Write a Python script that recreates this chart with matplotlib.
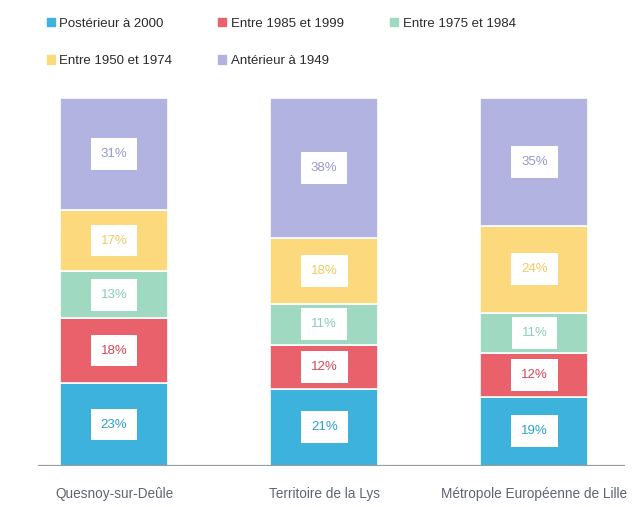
import numpy as np
import matplotlib.pyplot as plt
from matplotlib.patches import Patch

# data
territoires = ["Quesnoy-sur-Deûle", "Territoire de la Lys", "Métropole Européenne de Lille"]
periodes = ["Postérieur à 2000", "Entre 1985 et 1999", "Entre 1975 et 1984",
            "Entre 1950 et 1974", "Antérieur à 1949"]
posterieur_2000 = [23, 21, 19]
entre_1985_1999 = [18, 12, 12]
entre_1975_1984 = [13, 11, 11]
entre_1950_1974 = [17, 18, 24]
anterieur_1949 = [31, 38, 35]

fill_colors = ["#3db2dc", "#e9616b", "#a0d9c2", "#fbd97c", "#b2b3e1"]
text_colors = ["#2b9fcf", "#d94656", "#8dcdb4", "#f2c95e", "#9899cf"]

plt.rcParams["font.family"] = ["Liberation Sans", "DejaVu Sans"]

series = np.array([posterieur_2000, entre_1985_1999, entre_1975_1984,
                   entre_1950_1974, anterieur_1949], dtype=float)
# the published figures are rounded, every bar is drawn at full height
shares = series / series.sum(axis=0) * 100

fig = plt.figure(figsize=(6.35, 5.07), dpi=100)
ax = fig.add_axes([38 / 635, 1 - 466 / 507, 587 / 635, 368 / 507])

x = np.arange(len(territoires))
bottom = np.zeros(len(territoires))
for i, periode in enumerate(periodes):
    ax.bar(x, shares[i], 0.514, bottom=bottom, color=fill_colors[i],
           edgecolor="white", linewidth=1.2)
    for xi, b, h, v in zip(x, bottom, shares[i], series[i]):
        ax.text(xi, b + h / 2, f"{int(v)}%", ha="center", va="center",
                fontsize=9.5, color=text_colors[i],
                bbox=dict(boxstyle="square,pad=0.75", fc="white", ec="none"))
    bottom += shares[i]

ax.axhline(0, color="#9a9ca3", lw=1.6)
ax.set_xlim(-0.362, 2.431)
ax.set_ylim(0, 100)
ax.set_xticks(x)
ax.set_xticklabels(territoires, fontsize=9.8, color="#5d6673")
ax.tick_params(axis="x", length=0, pad=15)
ax.set_yticks([])
for s in ax.spines.values():
    s.set_visible(False)

# legend is filled column by column, reorder so it reads row by row
order = [0, 3, 1, 4, 2]
handles = [Patch(color=fill_colors[i]) for i in order]
labels = [periodes[i] for i in order]
fig.legend(handles, labels, ncol=3, loc="upper left",
           bbox_to_anchor=(40 / 635, 1 - 11 / 507), borderpad=0,
           frameon=False, fontsize=9.5, handlelength=0.6, handleheight=0.6,
           handletextpad=0.35, columnspacing=3.5, labelspacing=1.95,
           labelcolor="#2b2b2b")

fig.savefig("out.png", dpi=100)
